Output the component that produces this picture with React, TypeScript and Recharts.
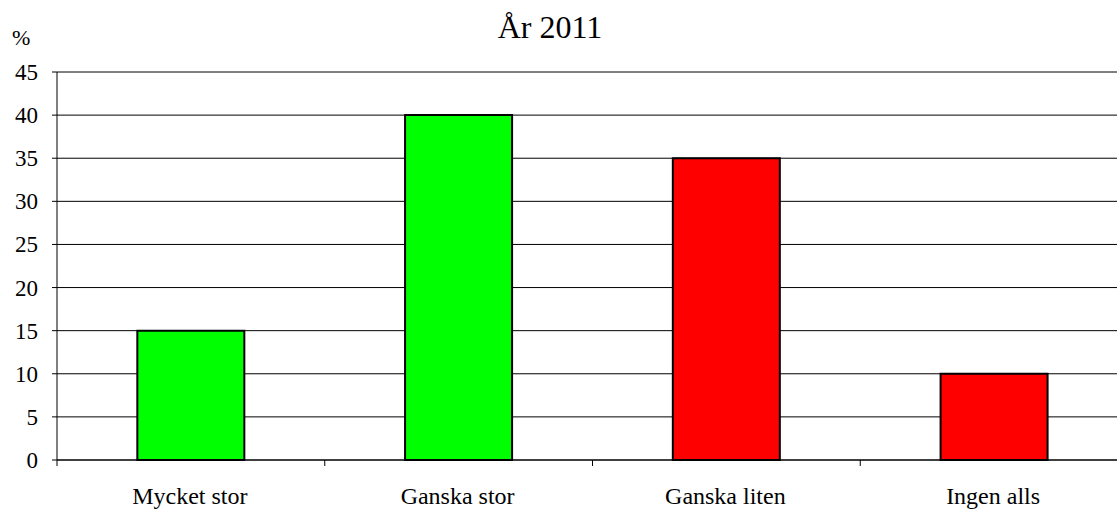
import React from "react";
import { BarChart, Bar, XAxis, YAxis, CartesianGrid, Cell } from "recharts";

// Data
const categories = ["Mycket stor", "Ganska stor", "Ganska liten", "Ingen alls"];
const values = [15, 40, 35, 10];
const barColors = ["#00ff00", "#00ff00", "#ff0000", "#ff0000"];
const yTicks = [0, 5, 10, 15, 20, 25, 30, 35, 40, 45];

const data = categories.map((name, i) => ({ name, value: values[i] }));

const W = 1117;
const CHART_W = 1128; // plot runs a little past the right edge, as in the reference
const H = 510;
const LEFT = 57;
const FONT = "Times New Roman, Liberation Serif, serif";
const textStyle = { fontFamily: FONT };

const halfBand = (CHART_W - LEFT) / categories.length / 2;

const XTick = (props: any) => {
  const { x, y, payload } = props;
  return (
    <g>
      <line x1={x - halfBand} y1={y - 8} x2={x - halfBand} y2={y - 2} stroke="#000" />
      <text x={x - 1} y={y + 36} textAnchor="middle" fontSize={24} style={textStyle} fill="#000">
        {payload.value}
      </text>
    </g>
  );
};

const YTick = (props: any) => {
  const { x, y, payload } = props;
  return (
    <text x={x - 12} y={y + 8} textAnchor="end" fontSize={23} style={textStyle} fill="#000">
      {payload.value}
    </text>
  );
};

export default function App() {
  return (
    <div
      style={{
        position: "absolute",
        left: 0,
        top: 0,
        width: W,
        height: H,
        overflow: "hidden",
        background: "#fff",
        fontFamily: FONT,
      }}
    >
      <BarChart
        width={CHART_W}
        height={H}
        data={data}
        margin={{ top: 72, right: 0, left: 0, bottom: 0 }}
        barCategoryGap="30%"
      >
        <text x={550} y={38} textAnchor="middle" fontSize={32} style={textStyle} fill="#000">
          År 2011
        </text>
        <text x={12} y={45} fontSize={22} style={textStyle} fill="#000">
          %
        </text>
        <CartesianGrid vertical={false} stroke="#000" strokeOpacity={1} />
        <XAxis
          dataKey="name"
          height={50}
          axisLine={{ stroke: "#000" }}
          tickLine={false}
          tick={<XTick />}
          interval={0}
        />
        <YAxis
          width={LEFT}
          domain={[0, 45]}
          ticks={yTicks}
          axisLine={{ stroke: "#000" }}
          tickLine={{ stroke: "#000" }}
          tickSize={5}
          tick={<YTick />}
          interval={0}
        />
        <Bar dataKey="value" stroke="#000" strokeWidth={2} isAnimationActive={false}>
          {data.map((d, i) => (
            <Cell key={d.name} fill={barColors[i]} />
          ))}
        </Bar>
      </BarChart>
    </div>
  );
}
